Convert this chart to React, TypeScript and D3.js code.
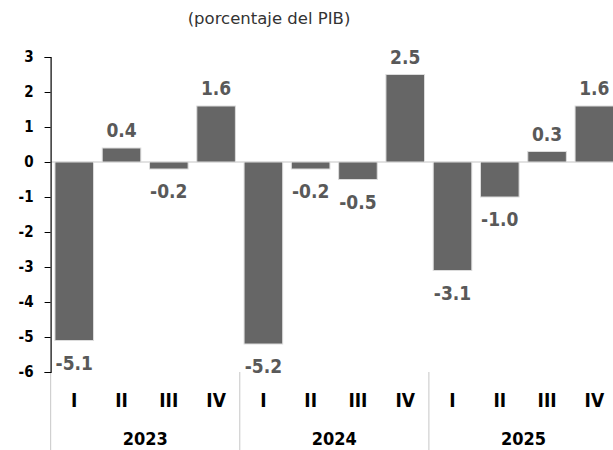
import { useEffect, useRef } from 'react';
import { scaleBand, scaleLinear, select, axisLeft, range } from 'd3';

const years = ['2023', '2024', '2025'];
const quarters = ['I', 'II', 'III', 'IV'];
const values = [-5.1, 0.4, -0.2, 1.6, -5.2, -0.2, -0.5, 2.5, -3.1, -1.0, 0.3, 1.6];
const yTicks = [3, 2, 1, 0, -1, -2, -3, -4, -5, -6];

const width = 613;
const height = 450;
const margin = { top: 57, left: 50.6, right: -5 };
const plotBottom = 372;

const narrow = "'DejaVu Sans', sans-serif";

export default function App() {
  const axisRef = useRef<SVGGElement>(null);

  const x = scaleBand<number>()
    .domain(range(values.length))
    .range([margin.left, width - margin.right])
    .paddingInner(0.184)
    .paddingOuter(0.092);

  const y = scaleLinear().domain([-6, 3]).range([plotBottom, margin.top]);

  const step = x.step();
  const bandStart = (i: number) => (x(i) as number) - (step * x.paddingInner()) / 2;

  useEffect(() => {
    const g = select(axisRef.current as SVGGElement);
    g.call(
      axisLeft(y)
        .tickValues(yTicks)
        .tickFormat((d) => String(d))
        .tickSize(6)
        .tickPadding(11)
    );
    g.select('.domain').attr('stroke', '#000').attr('stroke-width', 1.2);
    g.selectAll('.tick line').attr('stroke', '#000');
    g.selectAll('.tick text')
      .attr('fill', '#000')
      .style('font-family', narrow)
      .style('font-stretch', 'condensed')
      .style('font-weight', 'bold')
      .style('font-size', '15px');
  }, []);

  return (
    <svg width={width} height={height} style={{ position: 'absolute', left: 0, top: 0 }}>
      <text x={269} y={24} textAnchor="middle" fontFamily="'DejaVu Sans', sans-serif" fontSize={16.5} fill="#333">
        (porcentaje del PIB)
      </text>

      {/* zero line */}
      <line x1={margin.left} x2={width} y1={y(0)} y2={y(0)} stroke="#d9d9d9" strokeWidth={1.5} />

      {values.map((v, i) => (
        <rect
          key={i}
          x={x(i)}
          width={x.bandwidth()}
          y={y(Math.max(0, v))}
          height={Math.abs(y(v) - y(0))}
          fill="#666666"
          stroke="#dcdcdc"
          strokeWidth={1}
        />
      ))}

      {values.map((v, i) => (
        <text
          key={'v' + i}
          x={(x(i) as number) + x.bandwidth() / 2}
          y={v >= 0 ? y(v) - 11 : y(v) + 29}
          textAnchor="middle"
          fontFamily={narrow}
          fontStretch="condensed"
          fontWeight="bold"
          fontSize={19}
          fill="#595959"
        >
          {v.toFixed(1)}
        </text>
      ))}

      {/* group separators */}
      {years.map((yr, k) => (
        <line
          key={'s' + yr}
          x1={bandStart(k * 4)}
          x2={bandStart(k * 4)}
          y1={plotBottom}
          y2={height}
          stroke="#d0d0d0"
          strokeWidth={1.2}
        />
      ))}

      {values.map((_, i) => (
        <text
          key={'q' + i}
          x={(x(i) as number) + x.bandwidth() / 2}
          y={407}
          textAnchor="middle"
          fontFamily={narrow}
          fontStretch="condensed"
          fontWeight="bold"
          fontSize={19}
          fill="#000"
        >
          {quarters[i % 4]}
        </text>
      ))}

      {years.map((yr, k) => (
        <text
          key={'y' + yr}
          x={bandStart(k * 4) + step * 2}
          y={445}
          textAnchor="middle"
          fontFamily={narrow}
          fontStretch="condensed"
          fontWeight="bold"
          fontSize={18}
          fill="#000"
        >
          {yr}
        </text>
      ))}

      <g ref={axisRef} transform={`translate(${margin.left},0)`} />
    </svg>
  );
}
